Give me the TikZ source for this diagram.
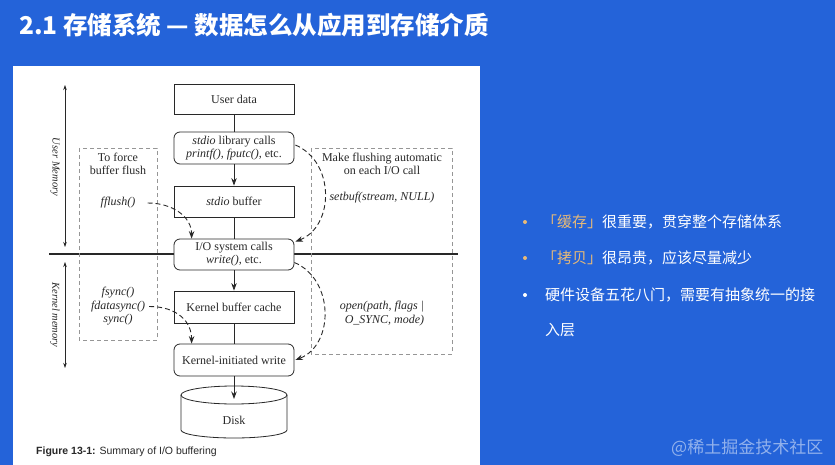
\documentclass[tikz,border=0pt]{standalone}
\usepackage{fontspec}
\setmainfont{Liberation Serif}
\newfontfamily\cjk{Noto Sans CJK SC}
\newfontfamily\capfont{Liberation Sans}
\usetikzlibrary{arrows.meta,calc}
\definecolor{bg}{RGB}{36,99,217}
\definecolor{gold}{RGB}{232,186,120}
\definecolor{ink}{RGB}{40,40,40}
\definecolor{dgray}{RGB}{150,150,150}
\begin{document}
\begin{tikzpicture}[x=1pt,y=-1pt,
  box/.style={draw=ink, line width=0.8pt, fill=white, minimum width=120pt, text=ink, font=\fontsize{12}{13}\selectfont, inner sep=0pt, align=center},
  rbox/.style={box, rounded corners=6pt},
  lbl/.style={text=ink, font=\fontsize{12}{13}\selectfont, align=center, inner sep=0pt},
  ilbl/.style={lbl, font=\fontsize{12}{13.5}\selectfont\itshape},
  mlbl/.style={text=ink, font=\fontsize{10.5}{12}\selectfont\itshape, inner sep=0pt},
  flow/.style={draw=ink, line width=0.8pt},
  arr/.style={flow, -{Stealth[length=7.5pt,width=5.5pt]}},
  dsh/.style={draw=ink, line width=0.9pt, dash pattern=on 5pt off 3pt, -{Stealth[length=7.5pt,width=5.5pt]}},
  gbox/.style={draw=dgray, line width=0.7pt, dash pattern=on 4pt off 3pt},
  mem/.style={draw=ink, line width=0.6pt, {Stealth[length=5pt,width=3.5pt]}-{Stealth[length=5pt,width=3.5pt]}},
  txt/.style={anchor=west, text=white, font=\cjk\fontsize{15}{18}\selectfont, inner sep=0pt},
  dot/.style={circle, inner sep=0pt, minimum size=4pt},
]
\useasboundingbox (0,0) rectangle (835,465);
\fill[bg] (0,0) rectangle (835,465);
\fill[white] (13,66) rectangle (480,465);

\node[anchor=west, text=white, font=\cjk\bfseries\fontsize{24.5}{28}\selectfont, inner sep=0pt] (title) at (19,25) {2.1 存储系统 — 数据怎么从应用到存储介质};

% separator line
\coordinate (hl1) at (49,254);
\coordinate (hl2) at (458,254);
\draw[ink, line width=1.2pt] (hl1) -- (hl2);

% dashed grey boxes
\draw[gbox] (79,148) rectangle (157,340);
\draw[gbox] (311,148) rectangle (452,354);

% main boxes
\node[box, minimum height=30pt] (user) at (234,99) {User data};
\node[rbox, minimum height=32pt] (stdio) at (234,148) {\textit{stdio} library calls\\\textit{printf(), fputc()}, etc.};
\node[box, minimum height=31pt] (buf) at (234,201.5) {\textit{stdio} buffer};
\node[rbox, minimum height=31pt] (io) at (234,254.5) {I/O system calls\\\textit{write()}, etc.};
\node[box, minimum height=32pt] (kbc) at (234,307) {Kernel buffer cache};
\node[rbox, minimum height=32pt] (kiw) at (234,360) {Kernel-initiated write};

% disk
\draw[ink, line width=0.8pt, fill=white] (181,395) -- (181,430) arc[start angle=180, end angle=0, x radius=53, y radius=8] -- (287,395) arc[start angle=0, end angle=-180, x radius=53, y radius=9] -- cycle;
\draw[ink, line width=0.8pt] (181,395) arc[start angle=180, end angle=0, x radius=53, y radius=9];
\node[lbl] (disk) at (234,420) {Disk};
\coordinate (disktop) at (234,399);

% vertical flow
\draw[flow] (user) -- (stdio);
\draw[arr] (stdio) -- (buf);
\draw[flow] (buf) -- (io);
\draw[arr] (io) -- (kbc);
\draw[flow] (kbc) -- (kiw);
\draw[arr] (kiw) -- (disktop);

% texts in dashed boxes
\node[lbl] (force) at (118,163.5) {To force\\buffer flush};
\node[ilbl] (fflush) at (118,203) {fflush()};
\node[ilbl] (fsync) at (118,306.5) {fsync()\\fdatasync()\\sync()};
\node[lbl] (auto) at (382,164) {Make flushing automatic\\on each I/O call};
\node[ilbl] (setbuf) at (382,198) {setbuf(stream, NULL)};
\node[ilbl, align=right] (open) at (382,313.5) {open(path, flags |\\O\_SYNC, mode)};

% dashed curved arrows
\draw[dsh] ($(fflush.east)+(12,0)$) .. controls +(25,0) and +(0,-22) .. ($(io.north west)+(18,0)$);
\draw[dsh] ($(fsync.east)+(4,0)$) .. controls +(28,0) and +(0,-22) .. ($(kiw.north west)+(18,0)$);
\draw[dsh] ($(stdio.east)+(1,-3)$) .. controls +(40,17) and +(39,-15) .. ($(io.north east)+(1,3)$);
\draw[dsh] ($(io.east)+(0,8)$) .. controls +(40,17) and +(39,-15) .. ($(kiw.east)+(1,0)$);

% memory arrows
\coordinate (um1) at (65,85);
\coordinate (um2) at (65,247);
\draw[mem] (um1) -- (um2);
\node[mlbl, rotate=-90] (umem) at (55,167) {User Memory};
\coordinate (km1) at (65,262);
\coordinate (km2) at (65,368);
\draw[mem] (km1) -- (km2);
\node[mlbl, rotate=-90] (kmem) at (55,315) {Kernel memory};

% caption
\node[anchor=west, font=\capfont\fontsize{10.5}{12}\selectfont, text=ink, inner sep=0pt] (cap) at (36,452) {\textbf{Figure 13-1:} Summary of I/O buffering};

% bullets
\node[dot, fill=gold] (d1) at (525,222) {};
\node[txt] (t1) at (542,222) {\textcolor{gold}{「缓存」}很重要，贯穿整个存储体系};
\node[dot, fill=gold] (d2) at (525,258) {};
\node[txt] (t2) at (542,258) {\textcolor{gold}{「拷贝」}很昂贵，应该尽量减少};
\node[dot, fill=white] (d3) at (525,295) {};
\node[txt] (t3) at (545,295) {硬件设备五花八门，需要有抽象统一的接};
\node[txt] (t4) at (545,330) {入层};

% watermark
\node[anchor=west, font=\cjk\fontsize{17}{20}\selectfont, text=white, opacity=0.5, inner sep=0pt] (wm) at (671,448) {@稀土掘金技术社区};
\end{tikzpicture}
\end{document}
